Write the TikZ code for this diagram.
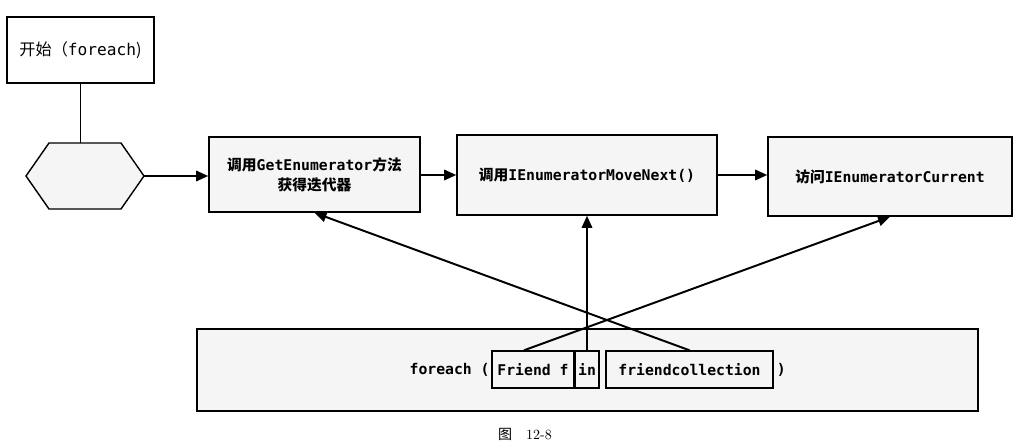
\documentclass[tikz,border=0pt]{standalone}
\usepackage{fontspec}
\usepackage{xcolor}
\usepackage{tikz}
\usetikzlibrary{arrows.meta,calc,positioning,shapes}
\newfontfamily\cjk{Noto Sans CJK SC}
\newfontfamily\codefont{DejaVu Sans Mono}
\tikzset{
	procbox/.style={draw,line width=1.1pt,fill=black!4,inner sep=0pt,font=\cjk\bfseries\fontsize{10.5}{14}\selectfont,align=center},
	wordbox/.style={draw,line width=1pt,fill=black!4,inner sep=0pt,minimum height=0.925cm,font=\codefont\bfseries\fontsize{10.5}{12}\selectfont},
	arr/.style={-{Triangle[length=3mm,width=2.6mm]},line width=1.4pt}
}

\begin{document}
\begin{tikzpicture}
		\useasboundingbox (0,0) rectangle (25.8,11.075);
		% oben links
		\node[draw,line width=1pt,fill=white,minimum width=3.675cm,minimum height=1.65cm,font=\cjk\fontsize{11.5}{14}\selectfont] (start) at (2.0125,9.825) {开始（{\codefont foreach})};
		\coordinate (hex) at (2.125,6.675);
		\coordinate (hexW) at (0.65,6.675);
		\coordinate (hexE) at (3.6,6.675);
		\coordinate (hexN) at (2.125,7.5);
		\draw[line width=1pt,fill=black!4] (hexW) -- (1.225,7.5) -- (3.025,7.5) -- (hexE) -- (3.025,5.85) -- (1.225,5.85) -- cycle;
		\draw[line width=1pt] (start.south) -- (start.south |- hexN);
		% obere Reihe
		\node[procbox,minimum width=5.275cm,minimum height=1.875cm] (getenum) at (7.8625,6.7125) {调用{\codefont GetEnumerator}方法\\获得迭代器};
		\node[procbox,minimum width=6.5cm,minimum height=2cm] (movenext) at (14.675,6.7) {调用{\codefont IEnumeratorMoveNext()}};
		\node[procbox,minimum width=6.1cm,minimum height=1.975cm] (current) at (22.25,6.6625) {访问{\codefont IEnumeratorCurrent}};
		\draw[arr] (hexE) -- (hexE -| getenum.west);
		\draw[arr] (getenum.east |- movenext) -- (movenext.west);
		\draw[arr] (movenext.east) -- (movenext.east -| current.west);
		% unten
		\node[draw,line width=1.1pt,fill=black!4,minimum width=19.525cm,minimum height=2.05cm] (loop) at (14.6875,1.825) {};
		\node[wordbox,minimum width=2.05cm] (friend) at (13.325,1.8375) {Friend f};
		\node[wordbox,minimum width=0.6cm] (inword) at (14.675,1.8375) {in};
		\node[wordbox,minimum width=4.175cm] (coll) at (17.2375,1.8375) {friendcollection};
		\node[anchor=east,inner sep=1pt,font=\codefont\bfseries\fontsize{10.5}{12}\selectfont] (kw) at (friend.west) {foreach (};
		\node[anchor=west,inner sep=2pt,font=\codefont\bfseries\fontsize{10.5}{12}\selectfont] (rpar) at (coll.east) {)};
		\draw[arr] ($(friend.north)+(-0.225,0)$) -- (current.south);
		\draw[arr] (inword.north) -- (movenext.south);
		\draw[arr] (coll.north) -- (getenum.south);
		\node[font=\cjk\fontsize{10}{12}\selectfont,inner sep=1pt] (caption) at (13.125,0.22) {图\quad{\rmfamily 12-8}};
		\end{tikzpicture}
\end{document}
